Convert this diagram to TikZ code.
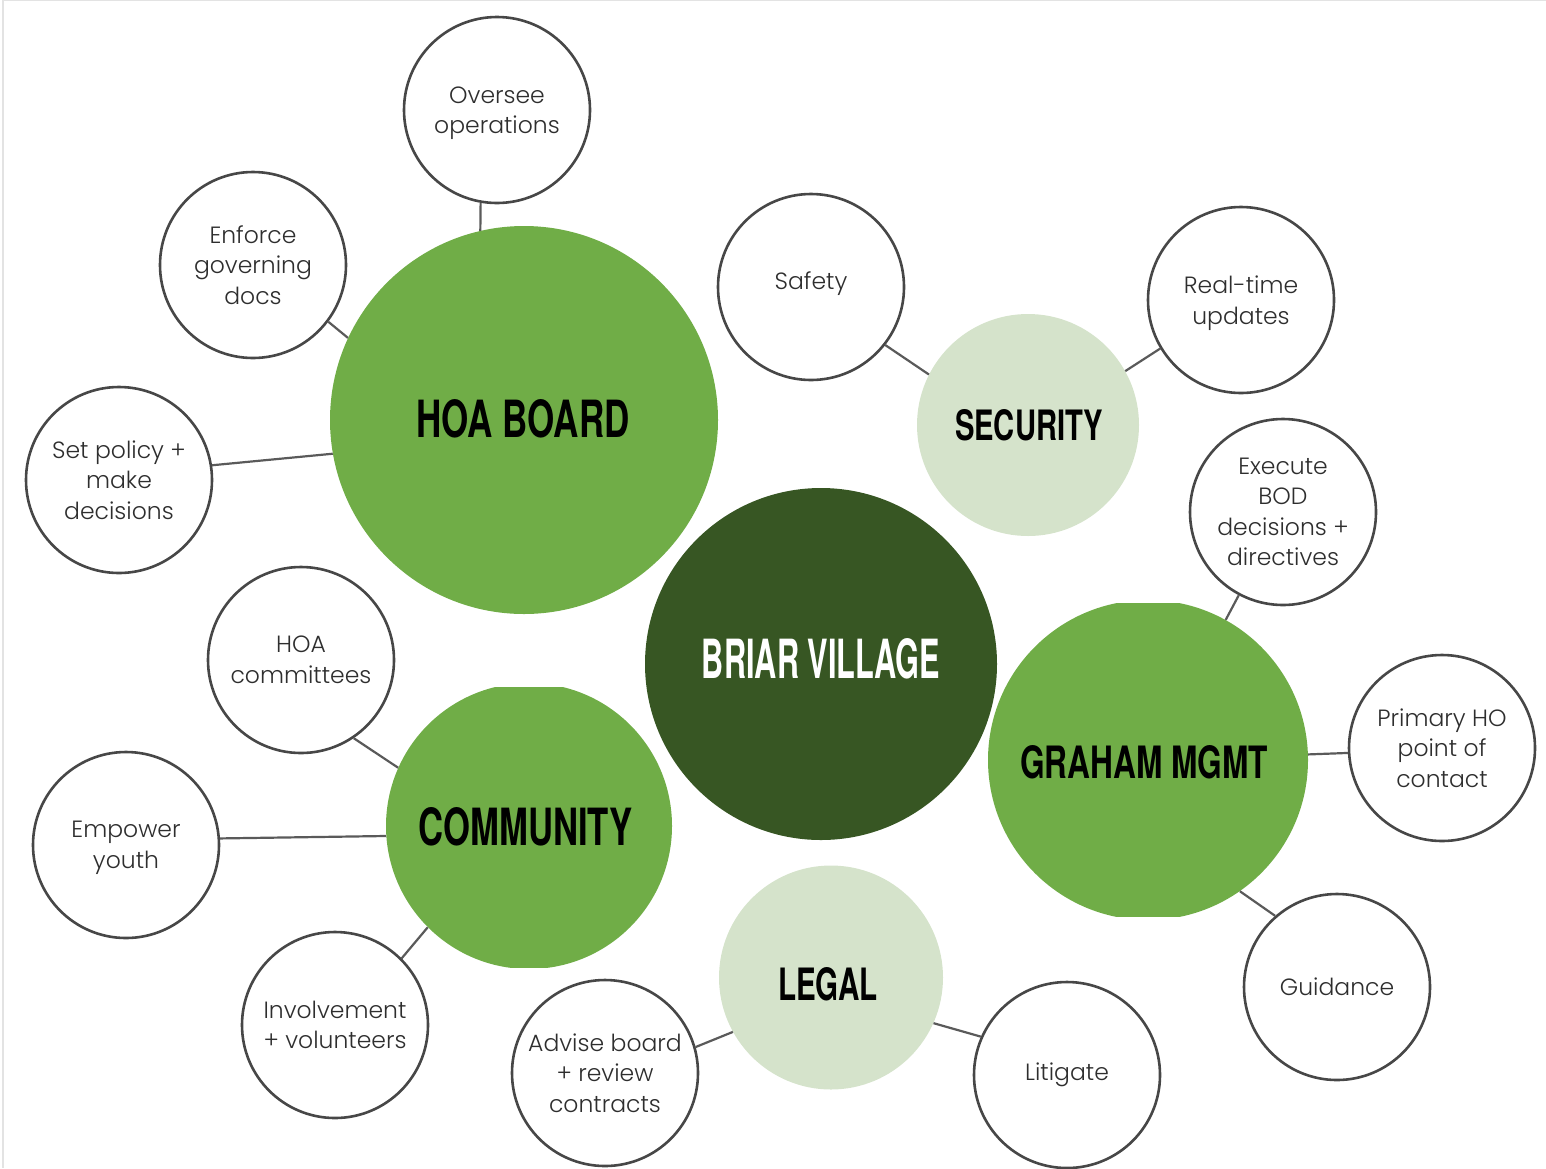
\documentclass[tikz,border=0pt]{standalone}
\usepackage{fontspec}
\usepackage{graphicx}
\setmainfont{Poppins Light}
\newfontfamily\titlefont{TeX Gyre Heros}
\definecolor{midgreen}{HTML}{70AD47}
\definecolor{lightgreen}{HTML}{D5E3CB}
\definecolor{darkgreen}{HTML}{375623}
\definecolor{ringgray}{HTML}{474747}
\definecolor{linegray}{HTML}{5A5A5A}
\definecolor{txtgray}{HTML}{2E2E2E}
\definecolor{framegray}{HTML}{E3E3E3}
\newcommand\mytitle[3]{\resizebox{#1pt}{#2pt}{\titlefont\bfseries #3}}
\tikzset{
  bubble/.style={circle, draw=ringgray, line width=2.6pt, fill=white, minimum size=186pt,
    inner sep=0pt, align=center, text=txtgray, font=\fontsize{23.5}{30.5}\selectfont},
  hub/.style={circle, minimum size=#1, inner sep=0pt},
  titletext/.style={inner sep=0pt, text=black},
  link/.style={draw=linegray, line width=2.2pt}
}
\begin{document}
\begin{tikzpicture}[x=1pt,y=-1pt]
\useasboundingbox (0,0) rectangle (1546,1168);
\draw[framegray, line width=1.2pt] (3,1168) -- (3,0.6) -- (1546,0.6);
% hubs
\node[hub=388pt, fill=midgreen] (hoa) at (524,420) {};
\node[hub=352pt, fill=darkgreen] (bv) at (821,664) {};
\node[hub=222pt, fill=lightgreen] (sec) at (1028,425) {};
\node[hub=224pt, fill=lightgreen] (leg) at (831,977.5) {};
\begin{scope}
  \clip (980,603) rectangle (1320,916);
  \node[hub=320pt, fill=midgreen] (gra) at (1148,760) {};
\end{scope}
\begin{scope}
  \clip (380,687) rectangle (680,967);
  \node[hub=286pt, fill=midgreen] (com) at (529,826) {};
\end{scope}
% titles
\node[titletext] (hoat) at (523,419) {\mytitle{213}{38}{HOA BOARD}};
\node[titletext, text=white] (bvt) at (821,659) {\mytitle{238}{40}{BRIAR VILLAGE}};
\node[titletext] (sect) at (1029,425) {\mytitle{148}{31}{SECURITY}};
\node[titletext] (grat) at (1144,762) {\mytitle{248}{33}{GRAHAM MGMT}};
\node[titletext] (comt) at (525.5,827) {\mytitle{214}{38}{COMMUNITY}};
\node[titletext] (legt) at (828,984) {\mytitle{100}{33}{LEGAL}};
% bubbles
\node[bubble, text depth=0pt] (ov) at (497,110) {Oversee\\operations};
\node[bubble] (enf) at (253,265) {Enforce\\governing\\docs};
\node[bubble] (set) at (119,480) {Set policy +\\make\\decisions};
\node[bubble] (hcom) at (301,660) {HOA\\committees};
\node[bubble, text depth=0pt] (emp) at (126,845) {Empower\\youth};
\node[bubble] (inv) at (335,1025) {Involvement\\+ volunteers};
\node[bubble] (adv) at (605,1073) {Advise board\\+ review\\contracts};
\node[bubble] (lit) at (1067,1075) {Litigate};
\node[bubble] (gui) at (1337,987) {Guidance};
\node[bubble] (pri) at (1442,748) {Primary HO\\point of\\contact};
\node[bubble] (exe) at (1283,512) {Execute\\BOD\\decisions +\\directives};
\node[bubble, text depth=0pt] (rt) at (1241,300) {Real-time\\updates};
\node[bubble, text depth=12pt] (saf) at (811,287) {Safety};
% connectors
\draw[link] (ov.260) -- (hoa.103);
\draw[link] (enf.-37.6) -- (hoa.155);
\draw[link] (set.9.2) -- (hoa.190.7);
\draw[link] (saf.-38.5) -- (sec.153.9);
\draw[link] (rt.211.8) -- (sec.29.6);
\draw[link] (exe.242) -- (gra.61.8);
\draw[link] (pri.183.7) -- (gra.2.1);
\draw[link] (gui.131.5) -- (gra.305.8);
\draw[link] (lit.156.9) -- (leg.336.8);
\draw[link] (adv.16.1) -- (leg.209.1);
\draw[link] (hcom.304.7) -- (com.156.2);
\draw[link] (emp.4.4) -- (com.184.4);
\draw[link] (inv.45) -- (com.225);
\end{tikzpicture}
\end{document}
